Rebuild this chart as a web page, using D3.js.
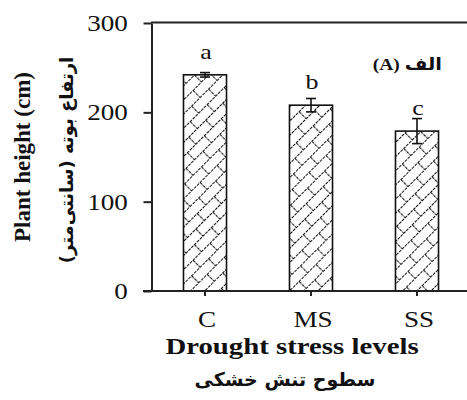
<!DOCTYPE html>
<html>
<head>
<meta charset="utf-8">
<script src="https://cdn.jsdelivr.net/npm/d3@7"></script>
<style>
  body { margin: 0; background: #fff; }
  svg { display: block; }
</style>
</head>
<body>
<div id="chart"></div>
<script>
// data
var categories = ["C", "MS", "SS"];
var heights = [242, 208, 179];
var errors = [2.5, 7.5, 14];
var letters = ["a", "b", "c"];
var yTicks = [0, 100, 200, 300];

var svgWidth = 467;
var svgHeight = 400;
var stretch = 1.18; // text in the source is a bit wider than tall

var svg = d3.select("#chart")
  .append("svg")
  .attr("width", svgWidth)
  .attr("height", svgHeight);

// diagonal brick pattern
var defs = svg.append("defs");
var pat = defs.append("pattern")
  .attr("id", "brick")
  .attr("patternUnits", "userSpaceOnUse")
  .attr("width", 24)
  .attr("height", 20)
  .attr("patternTransform", "rotate(-45)");
pat.append("rect").attr("width", 24).attr("height", 20).attr("fill", "#fff");
pat.append("path")
  .attr("d", "M0,0.5H24M0,10.5H24M0.5,0.5V10.5M12.5,10.5V20.5")
  .attr("stroke", "#111")
  .attr("stroke-width", 1.2)
  .attr("stroke-dasharray", "3,1")
  .attr("fill", "none");

var data = categories.map(function(c, i) {
  return {cat: c, value: heights[i], err: errors[i], letter: letters[i]};
});

// scales
var yScale = d3.scaleLinear()
  .domain([0, 300])
  .range([291, 23]);

var xScale = d3.scaleBand()
  .domain(categories)
  .range([152, 470])
  .paddingInner(0.594)
  .paddingOuter(0.297);

// stretched text helper
function label(x, y, str, size, weight, opts) {
  opts = opts || {};
  var g = svg.append("g")
    .attr("transform", "translate(" + x + "," + y + ") scale(" + (opts.sx || stretch) + ",1)");
  var t = g.append("text")
    .attr("text-anchor", opts.anchor || "middle")
    .style("font-family", opts.family || "'Liberation Serif', serif")
    .style("font-size", size + "px")
    .style("font-weight", weight)
    .attr("fill", "#111")
    .text(str);
  if (opts.rtl) t.attr("direction", "rtl");
  return g;
}

// top frame line
svg.append("line")
  .attr("x1", 151).attr("x2", svgWidth)
  .attr("y1", 22.5).attr("y2", 22.5)
  .attr("stroke", "#222")
  .attr("stroke-width", 2);

// bars
svg.selectAll("rect.bar")
  .data(data)
  .enter()
  .append("rect")
  .attr("class", "bar")
  .attr("x", d => xScale(d.cat))
  .attr("y", d => yScale(d.value))
  .attr("width", xScale.bandwidth())
  .attr("height", d => yScale(0) - yScale(d.value))
  .attr("fill", "url(#brick)")
  .attr("stroke", "#111")
  .attr("stroke-width", 1.6);

// error bars
var errG = svg.append("g").attr("stroke", "#111").attr("stroke-width", 1.6);
data.forEach(function(d) {
  var cx = xScale(d.cat) + xScale.bandwidth() / 2;
  var y1 = yScale(d.value + d.err);
  var y2 = yScale(d.value - d.err);
  errG.append("line").attr("x1", cx).attr("x2", cx).attr("y1", y1).attr("y2", y2);
  errG.append("line").attr("x1", cx - 5).attr("x2", cx + 5).attr("y1", y1).attr("y2", y1);
  errG.append("line").attr("x1", cx - 5).attr("x2", cx + 5).attr("y1", y2).attr("y2", y2);
});

// significance letters
data.forEach(function(d) {
  label(xScale(d.cat) + xScale.bandwidth() / 2 + 1, yScale(d.value) - 16, d.letter, 22, "normal");
});

// y axis
var leftAxis = d3.axisLeft(yScale)
  .tickValues(yTicks)
  .tickSize(8)
  .tickSizeOuter(0)
  .tickPadding(12);

var yAxisG = svg.append("g")
  .attr("transform", "translate(151.5,0)")
  .call(leftAxis);
yAxisG.select(".domain").attr("stroke", "#222").attr("stroke-width", 2);
yAxisG.selectAll(".tick line").attr("stroke", "#222").attr("stroke-width", 2);
yAxisG.selectAll(".tick text")
  .style("font-family", "'Liberation Serif', serif")
  .style("font-size", "23px")
  .attr("fill", "#111")
  .attr("transform", "scale(" + stretch + ",1)");

// x axis
var bottomAxis = d3.axisBottom(xScale)
  .tickSize(5)
  .tickSizeOuter(0)
  .tickFormat("");

var xAxisG = svg.append("g")
  .attr("transform", "translate(0,291)")
  .call(bottomAxis);
xAxisG.select(".domain").remove();
xAxisG.selectAll(".tick line").attr("stroke", "#222").attr("stroke-width", 2);
xAxisG.append("line")
  .attr("x1", 143).attr("x2", svgWidth)
  .attr("y1", 0).attr("y2", 0)
  .attr("stroke", "#222")
  .attr("stroke-width", 2);

// category labels
categories.forEach(function(c) {
  label(xScale(c) + xScale.bandwidth() / 2 + 2, 327, c, 23, "normal");
});

// axis titles
label(292, 354, "Drought stress levels", 24, "bold", {sx: 1.2});
label(285, 386, "سطوح تنش خشکی", 19, "bold", {family: "'DejaVu Sans', sans-serif", rtl: true, sx: 1.0});

svg.append("text")
  .attr("transform", "translate(30,157) rotate(-90)")
  .attr("text-anchor", "middle")
  .style("font-family", "'Liberation Serif', serif")
  .style("font-size", "23px")
  .style("font-weight", "bold")
  .attr("fill", "#111")
  .text("Plant height (cm)");

svg.append("text")
  .attr("transform", "translate(73,160) rotate(-90)")
  .attr("text-anchor", "middle")
  .attr("direction", "rtl")
  .style("font-family", "'DejaVu Sans', sans-serif")
  .style("font-size", "18px")
  .style("font-weight", "bold")
  .attr("fill", "#111")
  .text("ارتفاع بوته (سانتی‌متر)");

// panel label
label(442, 70, "الف (A)", 17, "bold", {family: "'Liberation Serif', 'DejaVu Sans', serif", anchor: "start", rtl: true, sx: 1.15});
</script>
</body>
</html>
